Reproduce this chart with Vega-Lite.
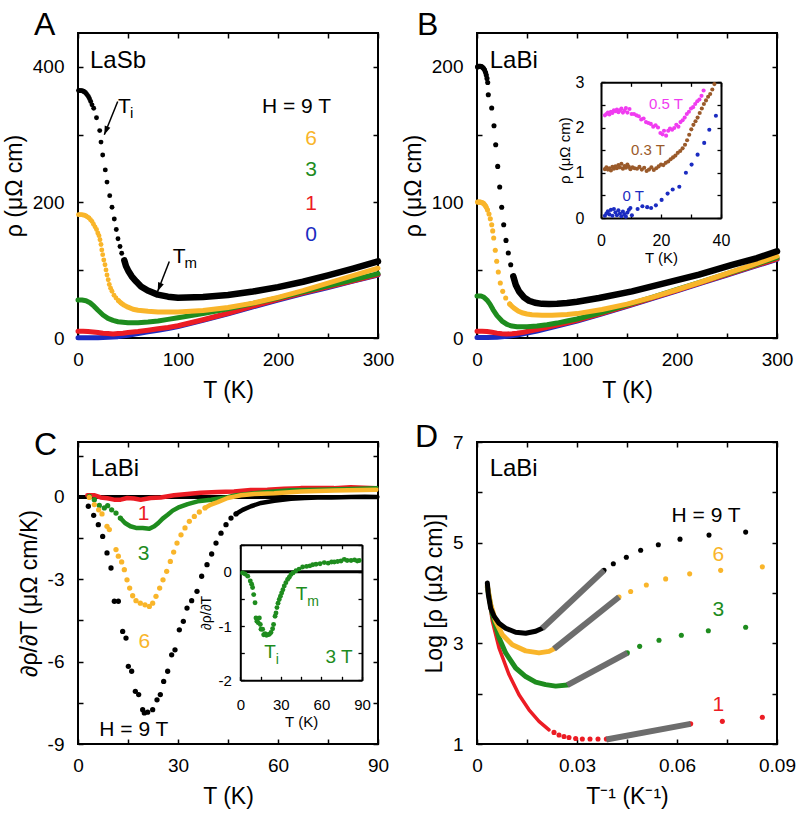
{
"$schema":"https://vega.github.io/schema/vega-lite/v6.json",
"padding":{"left":2,"top":8,"right":0,"bottom":0},
"background":"white",
"config":{
 "view":{"stroke":"black","strokeWidth":2},
 "font":"Liberation Sans",
 "text":{"font":"Liberation Sans"},
 "axis":{"domain":false,"grid":false,"tickSize":-5,"tickWidth":1.5,"tickColor":"black","labelFont":"Liberation Sans","labelFontSize":19,"labelColor":"black","labelPadding":17,"labelFlush":false,"labelOverlap":false,"titleFont":"Liberation Sans","titleFontSize":23,"titleFontWeight":"normal","titleColor":"black","titlePadding":10},
 "axisLeft":{"labelPadding":19,"titlePadding":6},
 "title":{"fontSize":32,"fontWeight":"normal","font":"Liberation Sans","anchor":"start","frame":"group","offset":-10,"baseline":"alphabetic","color":"black"}
},
"datasets":{
"A_lines":[
{"H":"0","T":0,"rho":0.5},{"H":"0","T":20,"rho":0.5},{"H":"0","T":30,"rho":1},{"H":"0","T":40,"rho":2},{"H":"0","T":50,"rho":4},{"H":"0","T":60,"rho":6.5},{"H":"0","T":70,"rho":9},{"H":"0","T":80,"rho":11.5},{"H":"0","T":90,"rho":14},{"H":"0","T":100,"rho":17},{"H":"0","T":125,"rho":26},{"H":"0","T":150,"rho":35.5},{"H":"0","T":175,"rho":46},{"H":"0","T":200,"rho":56},{"H":"0","T":225,"rho":65.5},{"H":"0","T":250,"rho":74.5},{"H":"0","T":275,"rho":84},{"H":"0","T":300,"rho":93},
{"H":"1","T":0,"rho":10},{"H":"1","T":5,"rho":10},{"H":"1","T":10,"rho":9.5},{"H":"1","T":15,"rho":9},{"H":"1","T":20,"rho":8},{"H":"1","T":25,"rho":7},{"H":"1","T":30,"rho":6.5},{"H":"1","T":35,"rho":6},{"H":"1","T":40,"rho":6.5},{"H":"1","T":45,"rho":7},{"H":"1","T":50,"rho":8},{"H":"1","T":60,"rho":9.5},{"H":"1","T":70,"rho":11.5},{"H":"1","T":80,"rho":13.5},{"H":"1","T":90,"rho":15.5},{"H":"1","T":100,"rho":18},{"H":"1","T":125,"rho":27},{"H":"1","T":150,"rho":36.5},{"H":"1","T":175,"rho":47},{"H":"1","T":200,"rho":57},{"H":"1","T":225,"rho":66.5},{"H":"1","T":250,"rho":75.5},{"H":"1","T":275,"rho":84.5},{"H":"1","T":300,"rho":93.5},
{"H":"3","T":0,"rho":56},{"H":"3","T":4,"rho":56},{"H":"3","T":8,"rho":55},{"H":"3","T":12,"rho":52},{"H":"3","T":16,"rho":47},{"H":"3","T":20,"rho":41},{"H":"3","T":25,"rho":34},{"H":"3","T":30,"rho":29},{"H":"3","T":35,"rho":26},{"H":"3","T":40,"rho":24},{"H":"3","T":50,"rho":22.5},{"H":"3","T":60,"rho":22.5},{"H":"3","T":70,"rho":23.5},{"H":"3","T":80,"rho":25},{"H":"3","T":90,"rho":27.5},{"H":"3","T":100,"rho":30},{"H":"3","T":125,"rho":36},{"H":"3","T":150,"rho":43},{"H":"3","T":175,"rho":51},{"H":"3","T":200,"rho":59},{"H":"3","T":225,"rho":68},{"H":"3","T":250,"rho":77},{"H":"3","T":275,"rho":86},{"H":"3","T":300,"rho":95},
{"H":"6","T":40.5,"rho":55},{"H":"6","T":43,"rho":51.6},{"H":"6","T":46,"rho":48.5},{"H":"6","T":50,"rho":45.5},{"H":"6","T":55,"rho":42.5},{"H":"6","T":60,"rho":41},{"H":"6","T":70,"rho":39.5},{"H":"6","T":80,"rho":38.5},{"H":"6","T":90,"rho":38.3},{"H":"6","T":100,"rho":38.5},{"H":"6","T":125,"rho":40.5},{"H":"6","T":150,"rho":45},{"H":"6","T":175,"rho":51.5},{"H":"6","T":200,"rho":60},{"H":"6","T":225,"rho":70},{"H":"6","T":250,"rho":81},{"H":"6","T":275,"rho":92},{"H":"6","T":300,"rho":103},
{"H":"9","T":46.3,"rho":114.6},{"H":"9","T":48,"rho":106},{"H":"9","T":50.7,"rho":98},{"H":"9","T":53.7,"rho":91},{"H":"9","T":58,"rho":83.6},{"H":"9","T":63,"rho":76},{"H":"9","T":69.7,"rho":70},{"H":"9","T":79.7,"rho":64},{"H":"9","T":90,"rho":61},{"H":"9","T":100,"rho":59.5},{"H":"9","T":125,"rho":60.5},{"H":"9","T":150,"rho":63.5},{"H":"9","T":175,"rho":68.5},{"H":"9","T":200,"rho":75},{"H":"9","T":225,"rho":83},{"H":"9","T":250,"rho":92.5},{"H":"9","T":275,"rho":102.5},{"H":"9","T":300,"rho":113}
],
"A_pts":[
{"H":"6","T":0.5,"rho":182},{"H":"6","T":2,"rho":182},{"H":"6","T":3.5,"rho":182},{"H":"6","T":5,"rho":181.5},{"H":"6","T":6.5,"rho":181},{"H":"6","T":8,"rho":180},{"H":"6","T":9.5,"rho":178.5},{"H":"6","T":11,"rho":177},{"H":"6","T":12.5,"rho":174.5},{"H":"6","T":14,"rho":172},{"H":"6","T":15.5,"rho":168},{"H":"6","T":17,"rho":164},{"H":"6","T":18.5,"rho":160},{"H":"6","T":19.8,"rho":155},{"H":"6","T":21,"rho":151},{"H":"6","T":22,"rho":145},{"H":"6","T":23,"rho":138},{"H":"6","T":23.8,"rho":130},{"H":"6","T":24.7,"rho":123},{"H":"6","T":25.8,"rho":115},{"H":"6","T":27,"rho":108},{"H":"6","T":28,"rho":100.5},{"H":"6","T":29,"rho":93},{"H":"6","T":30.2,"rho":86},{"H":"6","T":31.3,"rho":79},{"H":"6","T":32.6,"rho":73.5},{"H":"6","T":34,"rho":69},{"H":"6","T":36,"rho":63},{"H":"6","T":38,"rho":59},{"H":"6","T":40.5,"rho":55},{"H":"6","T":43,"rho":51.6},
{"H":"9","T":0.5,"rho":365},{"H":"9","T":1.5,"rho":365},{"H":"9","T":2.5,"rho":365},{"H":"9","T":3.5,"rho":365},{"H":"9","T":4.5,"rho":364.5},{"H":"9","T":5.5,"rho":364},{"H":"9","T":6.5,"rho":363},{"H":"9","T":7.5,"rho":362},{"H":"9","T":8.5,"rho":360},{"H":"9","T":9.5,"rho":358},{"H":"9","T":10.5,"rho":356},{"H":"9","T":11.5,"rho":353},{"H":"9","T":12.7,"rho":349},{"H":"9","T":14,"rho":344},{"H":"9","T":15.7,"rho":339},{"H":"9","T":18.5,"rho":325},{"H":"9","T":21.7,"rho":306},{"H":"9","T":23,"rho":289},{"H":"9","T":24.7,"rho":270},{"H":"9","T":27.3,"rho":248},{"H":"9","T":29,"rho":230},{"H":"9","T":31.7,"rho":210},{"H":"9","T":34,"rho":193},{"H":"9","T":36.3,"rho":175.5},{"H":"9","T":38.3,"rho":160},{"H":"9","T":40,"rho":146.5},{"H":"9","T":42,"rho":135},{"H":"9","T":43.7,"rho":125},{"H":"9","T":46.3,"rho":114.6}
],
"A_leg":[{"label":"6","H":"6","T":233,"rho":285},{"label":"3","H":"3","T":233,"rho":239},{"label":"1","H":"1","T":233,"rho":189},{"label":"0","H":"0","T":233,"rho":143}],
"A_arrows":[{"T":39.7,"rho":349,"T2":26.3,"rho2":300},{"T":91.3,"rho":113,"T2":79.7,"rho2":69}],
"A_heads":[{"T":26.3,"rho":300},{"T":79.7,"rho":69}],
"B_lines":[
{"H":"0","T":0,"rho":0.3},{"H":"0","T":10,"rho":0.3},{"H":"0","T":20,"rho":0.6},{"H":"0","T":30,"rho":1.2},{"H":"0","T":40,"rho":2.2},{"H":"0","T":50,"rho":3.6},{"H":"0","T":60,"rho":5.2},{"H":"0","T":70,"rho":7},{"H":"0","T":80,"rho":8.8},{"H":"0","T":90,"rho":10.6},{"H":"0","T":100,"rho":12.5},{"H":"0","T":125,"rho":17.8},{"H":"0","T":150,"rho":23.3},{"H":"0","T":175,"rho":29},{"H":"0","T":200,"rho":34.8},{"H":"0","T":225,"rho":40.6},{"H":"0","T":250,"rho":46.4},{"H":"0","T":275,"rho":52.2},{"H":"0","T":300,"rho":58},
{"H":"1","T":0,"rho":5},{"H":"1","T":5,"rho":5},{"H":"1","T":10,"rho":4.8},{"H":"1","T":15,"rho":4.2},{"H":"1","T":20,"rho":3.6},{"H":"1","T":25,"rho":3.2},{"H":"1","T":30,"rho":3},{"H":"1","T":35,"rho":3.1},{"H":"1","T":40,"rho":3.5},{"H":"1","T":45,"rho":4},{"H":"1","T":50,"rho":4.8},{"H":"1","T":60,"rho":6.2},{"H":"1","T":70,"rho":7.8},{"H":"1","T":80,"rho":9.5},{"H":"1","T":90,"rho":11.2},{"H":"1","T":100,"rho":13},{"H":"1","T":125,"rho":18.2},{"H":"1","T":150,"rho":23.7},{"H":"1","T":175,"rho":29.4},{"H":"1","T":200,"rho":35.2},{"H":"1","T":225,"rho":41},{"H":"1","T":250,"rho":46.8},{"H":"1","T":275,"rho":52.6},{"H":"1","T":300,"rho":58.4},
{"H":"3","T":0,"rho":31},{"H":"3","T":4,"rho":31},{"H":"3","T":7,"rho":30},{"H":"3","T":10,"rho":28},{"H":"3","T":13,"rho":25},{"H":"3","T":16,"rho":21},{"H":"3","T":20,"rho":16.5},{"H":"3","T":25,"rho":12.5},{"H":"3","T":30,"rho":10},{"H":"3","T":35,"rho":8.8},{"H":"3","T":40,"rho":8.3},{"H":"3","T":50,"rho":8.3},{"H":"3","T":60,"rho":8.8},{"H":"3","T":70,"rho":9.8},{"H":"3","T":80,"rho":11},{"H":"3","T":90,"rho":12.5},{"H":"3","T":100,"rho":14},{"H":"3","T":125,"rho":19},{"H":"3","T":150,"rho":24.5},{"H":"3","T":175,"rho":30},{"H":"3","T":200,"rho":35.8},{"H":"3","T":225,"rho":41.6},{"H":"3","T":250,"rho":47.4},{"H":"3","T":275,"rho":53.3},{"H":"3","T":300,"rho":59.3},
{"H":"6","T":32.7,"rho":25.1},{"H":"6","T":35,"rho":23.3},{"H":"6","T":37,"rho":22},{"H":"6","T":41,"rho":20},{"H":"6","T":45,"rho":18.6},{"H":"6","T":50,"rho":17.7},{"H":"6","T":55,"rho":17.2},{"H":"6","T":65,"rho":16.8},{"H":"6","T":75,"rho":16.8},{"H":"6","T":90,"rho":17.3},{"H":"6","T":100,"rho":18},{"H":"6","T":125,"rho":21},{"H":"6","T":150,"rho":25},{"H":"6","T":175,"rho":30},{"H":"6","T":200,"rho":35.6},{"H":"6","T":225,"rho":41.5},{"H":"6","T":250,"rho":47.6},{"H":"6","T":275,"rho":53.8},{"H":"6","T":300,"rho":60.3},
{"H":"9","T":36.3,"rho":45.5},{"H":"9","T":38.7,"rho":39.3},{"H":"9","T":42,"rho":34.4},{"H":"9","T":47,"rho":30},{"H":"9","T":52,"rho":27.5},{"H":"9","T":58,"rho":26},{"H":"9","T":65,"rho":25.2},{"H":"9","T":72,"rho":25},{"H":"9","T":80,"rho":25.2},{"H":"9","T":90,"rho":25.8},{"H":"9","T":100,"rho":26.8},{"H":"9","T":122,"rho":29.5},{"H":"9","T":155,"rho":34.4},{"H":"9","T":189,"rho":40.6},{"H":"9","T":222,"rho":46.7},{"H":"9","T":255,"rho":54},{"H":"9","T":280,"rho":59},{"H":"9","T":300,"rho":64}
],
"B_pts":[
{"H":"6","T":0.5,"rho":100.3},{"H":"6","T":1.5,"rho":100.3},{"H":"6","T":2.5,"rho":100.3},{"H":"6","T":3.5,"rho":100.2},{"H":"6","T":4.5,"rho":100},{"H":"6","T":5.5,"rho":99.8},{"H":"6","T":6.5,"rho":99.3},{"H":"6","T":7.5,"rho":98.5},{"H":"6","T":8.5,"rho":97.5},{"H":"6","T":9.3,"rho":96.4},{"H":"6","T":10.5,"rho":94.5},{"H":"6","T":12,"rho":91.5},{"H":"6","T":13.3,"rho":88},{"H":"6","T":14.7,"rho":83.6},{"H":"6","T":15.7,"rho":79},{"H":"6","T":16.7,"rho":73.8},{"H":"6","T":18.3,"rho":64.7},{"H":"6","T":19.7,"rho":56.6},{"H":"6","T":21.3,"rho":48.7},{"H":"6","T":23.3,"rho":40.6},{"H":"6","T":25.7,"rho":34.4},{"H":"6","T":28.7,"rho":29.5},{"H":"6","T":32.7,"rho":25.1},
{"H":"9","T":0.5,"rho":200},{"H":"9","T":1.5,"rho":200.5},{"H":"9","T":2.5,"rho":200.5},{"H":"9","T":3.5,"rho":200.5},{"H":"9","T":4.5,"rho":200.2},{"H":"9","T":5.5,"rho":199.7},{"H":"9","T":6.5,"rho":199},{"H":"9","T":7.5,"rho":197.8},{"H":"9","T":8.5,"rho":196},{"H":"9","T":9.3,"rho":194},{"H":"9","T":10,"rho":191.5},{"H":"9","T":10.7,"rho":188.5},{"H":"9","T":11.3,"rho":179.5},{"H":"9","T":14.7,"rho":169.7},{"H":"9","T":17,"rho":156.6},{"H":"9","T":18.7,"rho":142.6},{"H":"9","T":20.7,"rho":126.6},{"H":"9","T":22.7,"rho":111.4},{"H":"9","T":24.7,"rho":96.4},{"H":"9","T":26.7,"rho":83.6},{"H":"9","T":29,"rho":72},{"H":"9","T":31.3,"rho":62.7},{"H":"9","T":33.7,"rho":54},{"H":"9","T":36.3,"rho":45.5}
],
"Bi_pts":[
{"H":"0.5","T":1.3,"rho":2.27},{"H":"0.5","T":1.8,"rho":2.3},{"H":"0.5","T":2.3,"rho":2.33},{"H":"0.5","T":2.8,"rho":2.29},{"H":"0.5","T":3.3,"rho":2.35},{"H":"0.5","T":3.8,"rho":2.32},{"H":"0.5","T":4.3,"rho":2.38},{"H":"0.5","T":4.8,"rho":2.36},{"H":"0.5","T":5.3,"rho":2.4},{"H":"0.5","T":5.8,"rho":2.34},{"H":"0.5","T":6.3,"rho":2.38},{"H":"0.5","T":6.8,"rho":2.42},{"H":"0.5","T":7.3,"rho":2.33},{"H":"0.5","T":7.8,"rho":2.37},{"H":"0.5","T":8.3,"rho":2.43},{"H":"0.5","T":8.8,"rho":2.33},{"H":"0.5","T":9.5,"rho":2.41},{"H":"0.5","T":10.2,"rho":2.3},{"H":"0.5","T":11,"rho":2.3},{"H":"0.5","T":11.8,"rho":2.27},{"H":"0.5","T":12.6,"rho":2.25},{"H":"0.5","T":13.4,"rho":2.18},{"H":"0.5","T":14.2,"rho":2.2},{"H":"0.5","T":15,"rho":2.12},{"H":"0.5","T":15.8,"rho":2.1},{"H":"0.5","T":16.6,"rho":2.08},{"H":"0.5","T":17.4,"rho":2.02},{"H":"0.5","T":18.2,"rho":2.05},{"H":"0.5","T":19,"rho":2},{"H":"0.5","T":19.8,"rho":1.88},{"H":"0.5","T":20.5,"rho":1.85},{"H":"0.5","T":21,"rho":1.93},{"H":"0.5","T":21.7,"rho":1.82},{"H":"0.5","T":22.4,"rho":1.93},{"H":"0.5","T":23,"rho":1.98},{"H":"0.5","T":23.7,"rho":1.95},{"H":"0.5","T":24.4,"rho":1.99},{"H":"0.5","T":25.1,"rho":2.06},{"H":"0.5","T":25.8,"rho":2.02},{"H":"0.5","T":26.5,"rho":2.12},{"H":"0.5","T":27.2,"rho":2.16},{"H":"0.5","T":27.9,"rho":2.22},{"H":"0.5","T":28.6,"rho":2.3},{"H":"0.5","T":29.3,"rho":2.35},{"H":"0.5","T":30,"rho":2.42},{"H":"0.5","T":30.7,"rho":2.45},{"H":"0.5","T":31.4,"rho":2.52},{"H":"0.5","T":32.1,"rho":2.58},{"H":"0.5","T":32.8,"rho":2.62},{"H":"0.5","T":33.5,"rho":2.7},{"H":"0.5","T":34.2,"rho":2.82},
{"H":"0.3","T":1.3,"rho":1.08},{"H":"0.3","T":1.8,"rho":1.12},{"H":"0.3","T":2.3,"rho":1.07},{"H":"0.3","T":2.8,"rho":1.1},{"H":"0.3","T":3.3,"rho":1.05},{"H":"0.3","T":3.8,"rho":1.13},{"H":"0.3","T":4.3,"rho":1.09},{"H":"0.3","T":4.8,"rho":1.14},{"H":"0.3","T":5.3,"rho":1.1},{"H":"0.3","T":5.8,"rho":1.17},{"H":"0.3","T":6.3,"rho":1.12},{"H":"0.3","T":6.8,"rho":1.2},{"H":"0.3","T":7.3,"rho":1.09},{"H":"0.3","T":7.8,"rho":1.15},{"H":"0.3","T":8.3,"rho":1.11},{"H":"0.3","T":8.8,"rho":1.18},{"H":"0.3","T":9.3,"rho":1.13},{"H":"0.3","T":9.8,"rho":1.08},{"H":"0.3","T":10.5,"rho":1.12},{"H":"0.3","T":11.2,"rho":1.1},{"H":"0.3","T":12,"rho":1.09},{"H":"0.3","T":12.8,"rho":1.13},{"H":"0.3","T":13.6,"rho":1.07},{"H":"0.3","T":14.4,"rho":1.11},{"H":"0.3","T":15.2,"rho":1.04},{"H":"0.3","T":16,"rho":1.07},{"H":"0.3","T":16.8,"rho":1.12},{"H":"0.3","T":17.6,"rho":1.06},{"H":"0.3","T":18.4,"rho":1.1},{"H":"0.3","T":19.2,"rho":1.14},{"H":"0.3","T":20,"rho":1.18},{"H":"0.3","T":20.8,"rho":1.17},{"H":"0.3","T":21.6,"rho":1.22},{"H":"0.3","T":22.4,"rho":1.25},{"H":"0.3","T":23.2,"rho":1.3},{"H":"0.3","T":24,"rho":1.34},{"H":"0.3","T":24.8,"rho":1.38},{"H":"0.3","T":25.6,"rho":1.44},{"H":"0.3","T":26.4,"rho":1.48},{"H":"0.3","T":27.2,"rho":1.54},{"H":"0.3","T":28,"rho":1.62},{"H":"0.3","T":28.7,"rho":1.72},{"H":"0.3","T":29.4,"rho":1.84},{"H":"0.3","T":30.1,"rho":1.96},{"H":"0.3","T":30.8,"rho":2.06},{"H":"0.3","T":31.5,"rho":2.14},{"H":"0.3","T":32.2,"rho":2.22},{"H":"0.3","T":32.9,"rho":2.32},{"H":"0.3","T":33.6,"rho":2.42},{"H":"0.3","T":34.3,"rho":2.52},{"H":"0.3","T":35,"rho":2.6},{"H":"0.3","T":35.7,"rho":2.68},{"H":"0.3","T":36.4,"rho":2.74},{"H":"0.3","T":37.1,"rho":2.84},{"H":"0.3","T":37.8,"rho":2.96},
{"H":"0","T":1.3,"rho":0.05},{"H":"0","T":1.8,"rho":0.1},{"H":"0","T":2.3,"rho":0.15},{"H":"0","T":2.8,"rho":0.08},{"H":"0","T":3.3,"rho":0.18},{"H":"0","T":3.8,"rho":0.05},{"H":"0","T":4.3,"rho":0.2},{"H":"0","T":4.8,"rho":0.12},{"H":"0","T":5.3,"rho":0.06},{"H":"0","T":5.8,"rho":0.17},{"H":"0","T":6.3,"rho":0.1},{"H":"0","T":6.8,"rho":0.04},{"H":"0","T":7.3,"rho":0.14},{"H":"0","T":7.8,"rho":0.08},{"H":"0","T":8.3,"rho":0.03},{"H":"0","T":8.8,"rho":0.12},{"H":"0","T":9.3,"rho":0.18},{"H":"0","T":9.8,"rho":0.22},{"H":"0","T":10.3,"rho":0.06},{"H":"0","T":12.2,"rho":0.2},{"H":"0","T":13.8,"rho":0.26},{"H":"0","T":15.4,"rho":0.24},{"H":"0","T":16.7,"rho":0.22},{"H":"0","T":18.3,"rho":0.28},{"H":"0","T":20.2,"rho":0.4},{"H":"0","T":22.2,"rho":0.54},{"H":"0","T":23.9,"rho":0.63},{"H":"0","T":26.1,"rho":0.69},{"H":"0","T":28.3,"rho":1},{"H":"0","T":30.2,"rho":1.18},{"H":"0","T":32.2,"rho":1.4},{"H":"0","T":34.4,"rho":1.66},{"H":"0","T":36.1,"rho":1.95},{"H":"0","T":38.3,"rho":2.26}
],
"Bi_text":[{"label":"0.5 T","H":"0.5","T":16,"rho":2.4},{"label":"0.3 T","H":"0.3","T":10,"rho":1.4},{"label":"0 T","H":"0","T":7.2,"rho":0.37}],
"C_lines":[
{"H":"1","T":2.8,"d":0.06},{"H":"1","T":4.8,"d":0.06},{"H":"1","T":6.8,"d":-0.02},{"H":"1","T":8.8,"d":-0.05},{"H":"1","T":10.8,"d":-0.1},{"H":"1","T":12.8,"d":-0.1},{"H":"1","T":14.8,"d":-0.04},{"H":"1","T":16.8,"d":-0.06},{"H":"1","T":18.8,"d":-0.1},{"H":"1","T":21.8,"d":-0.04},{"H":"1","T":24.8,"d":-0.02},{"H":"1","T":28.8,"d":0.06},{"H":"1","T":32.8,"d":0.11},{"H":"1","T":36.8,"d":0.15},{"H":"1","T":41.8,"d":0.18},{"H":"1","T":46.8,"d":0.2},{"H":"1","T":51.8,"d":0.25},{"H":"1","T":56.8,"d":0.26},{"H":"1","T":61.8,"d":0.3},{"H":"1","T":66.8,"d":0.32},{"H":"1","T":71.8,"d":0.32},{"H":"1","T":76.8,"d":0.32},{"H":"1","T":81.8,"d":0.35},{"H":"1","T":89.5,"d":0.32},
{"H":"3","T":12.7,"d":-0.77},{"H":"3","T":14.1,"d":-0.95},{"H":"3","T":15.7,"d":-1.07},{"H":"3","T":17.4,"d":-1.13},{"H":"3","T":19.4,"d":-1.13},{"H":"3","T":21.4,"d":-1.16},{"H":"3","T":22.9,"d":-1.07},{"H":"3","T":24.1,"d":-0.95},{"H":"3","T":25.4,"d":-0.79},{"H":"3","T":26.9,"d":-0.65},{"H":"3","T":28.4,"d":-0.5},{"H":"3","T":30.4,"d":-0.37},{"H":"3","T":32.9,"d":-0.26},{"H":"3","T":35.9,"d":-0.16},{"H":"3","T":39.9,"d":-0.1},{"H":"3","T":44.9,"d":-0.01},{"H":"3","T":47,"d":0.05},{"H":"3","T":50.9,"d":0.11},{"H":"3","T":56.9,"d":0.18},{"H":"3","T":63.9,"d":0.24},{"H":"3","T":71.9,"d":0.26},{"H":"3","T":81.9,"d":0.29},{"H":"3","T":89.5,"d":0.32},
{"H":"6","T":38.1,"d":-0.4},{"H":"6","T":39.9,"d":-0.28},{"H":"6","T":41.9,"d":-0.19},{"H":"6","T":44.9,"d":-0.04},{"H":"6","T":46.9,"d":0.01},{"H":"6","T":48.9,"d":0.06},{"H":"6","T":52.9,"d":0.11},{"H":"6","T":58.9,"d":0.13},{"H":"6","T":66.9,"d":0.2},{"H":"6","T":76.9,"d":0.23},{"H":"6","T":89.5,"d":0.26},
{"H":"9","T":47.4,"d":-0.62},{"H":"9","T":49.4,"d":-0.47},{"H":"9","T":51.9,"d":-0.34},{"H":"9","T":54.9,"d":-0.22},{"H":"9","T":58.9,"d":-0.14},{"H":"9","T":63.9,"d":-0.07},{"H":"9","T":68,"d":-0.04},{"H":"9","T":71.9,"d":-0.02},{"H":"9","T":76,"d":-0.02},{"H":"9","T":81.9,"d":0},{"H":"9","T":86,"d":0.01},{"H":"9","T":89.8,"d":0}
],
"C_pts":[
{"H":"3","T":3.4,"d":0.02},{"H":"3","T":4.9,"d":-0.1},{"H":"3","T":6.4,"d":-0.31},{"H":"3","T":7.9,"d":-0.4},{"H":"3","T":8.9,"d":-0.32},{"H":"3","T":10.1,"d":-0.47},{"H":"3","T":11.4,"d":-0.59},{"H":"3","T":12.7,"d":-0.77},
{"H":"6","T":3.4,"d":-0.02},{"H":"6","T":4.9,"d":-0.28},{"H":"6","T":6.2,"d":-0.47},{"H":"6","T":7.2,"d":-0.62},{"H":"6","T":8.7,"d":-1.07},{"H":"6","T":9.4,"d":-1.19},{"H":"6","T":11.4,"d":-1.92},{"H":"6","T":12.1,"d":-2.16},{"H":"6","T":13.1,"d":-2.37},{"H":"6","T":13.9,"d":-2.65},{"H":"6","T":14.7,"d":-3.02},{"H":"6","T":15.5,"d":-3.32},{"H":"6","T":16.4,"d":-3.6},{"H":"6","T":17.4,"d":-3.78},{"H":"6","T":18.7,"d":-3.87},{"H":"6","T":20.1,"d":-3.93},{"H":"6","T":21.4,"d":-3.99},{"H":"6","T":22.4,"d":-3.87},{"H":"6","T":23.4,"d":-3.62},{"H":"6","T":24.5,"d":-3.32},{"H":"6","T":25.5,"d":-3.02},{"H":"6","T":26.6,"d":-2.71},{"H":"6","T":27.7,"d":-2.35},{"H":"6","T":28.7,"d":-2.01},{"H":"6","T":29.7,"d":-1.68},{"H":"6","T":30.9,"d":-1.38},{"H":"6","T":32.1,"d":-1.13},{"H":"6","T":33.4,"d":-0.89},{"H":"6","T":34.9,"d":-0.71},{"H":"6","T":36.4,"d":-0.55},{"H":"6","T":38.1,"d":-0.4},
{"H":"9","T":3.1,"d":-0.34},{"H":"9","T":4.7,"d":-0.67},{"H":"9","T":6.1,"d":-1.01},{"H":"9","T":7.4,"d":-1.44},{"H":"9","T":8.7,"d":-2.04},{"H":"9","T":9.9,"d":-2.59},{"H":"9","T":10.9,"d":-3.8},{"H":"9","T":12.1,"d":-3.8},{"H":"9","T":13.4,"d":-4.9},{"H":"9","T":14.4,"d":-5.14},{"H":"9","T":15.1,"d":-6.17},{"H":"9","T":16.1,"d":-6.35},{"H":"9","T":17.2,"d":-7.08},{"H":"9","T":18.2,"d":-7.2},{"H":"9","T":19.4,"d":-7.75},{"H":"9","T":19.9,"d":-7.87},{"H":"9","T":20.9,"d":-7.84},{"H":"9","T":22.4,"d":-7.75},{"H":"9","T":23.7,"d":-7.39},{"H":"9","T":24.7,"d":-7.2},{"H":"9","T":25.7,"d":-6.72},{"H":"9","T":26.9,"d":-6.35},{"H":"9","T":28.1,"d":-5.75},{"H":"9","T":29.1,"d":-5.57},{"H":"9","T":30.4,"d":-4.84},{"H":"9","T":31.6,"d":-4.53},{"H":"9","T":32.7,"d":-4.05},{"H":"9","T":34.1,"d":-3.78},{"H":"9","T":35.7,"d":-3.44},{"H":"9","T":37.1,"d":-2.89},{"H":"9","T":38.7,"d":-2.47},{"H":"9","T":40.1,"d":-2.08},{"H":"9","T":41.4,"d":-1.68},{"H":"9","T":42.9,"d":-1.32},{"H":"9","T":44.4,"d":-1.01},{"H":"9","T":45.9,"d":-0.77},{"H":"9","T":47.4,"d":-0.62}
],
"C_leg":[{"label":"1","H":"1","T":19.65,"d":-0.83},{"label":"3","H":"3","T":19.65,"d":-2.29},{"label":"6","H":"6","T":19.9,"d":-5.5}],
"Ci_pts":[
{"T":1.7,"d":-0.02},{"T":3.5,"d":-0.04},{"T":5.5,"d":-0.08},{"T":7.4,"d":-0.17},{"T":8.4,"d":-0.23},{"T":9.1,"d":-0.29},{"T":9.9,"d":-0.42},{"T":10.9,"d":-0.57},{"T":11.6,"d":-0.85},{"T":12.3,"d":-0.91},{"T":13.3,"d":-0.94},{"T":14.1,"d":-0.85},{"T":14.8,"d":-0.97},{"T":15.3,"d":-1.06},{"T":16.5,"d":-1.06},{"T":17.3,"d":-1.16},{"T":18.3,"d":-1.14},{"T":19.3,"d":-1.17},{"T":20.3,"d":-1.16},{"T":21.5,"d":-1.15},{"T":22.7,"d":-1.12},{"T":23.9,"d":-1.05},{"T":24.6,"d":-0.97},{"T":25.7,"d":-0.82},{"T":26.4,"d":-0.76},{"T":27.1,"d":-0.66},{"T":27.9,"d":-0.58},{"T":28.8,"d":-0.51},{"T":29.7,"d":-0.45},{"T":30.6,"d":-0.39},{"T":31.5,"d":-0.33},{"T":32.5,"d":-0.26},{"T":33.7,"d":-0.2},{"T":35,"d":-0.14},{"T":36.2,"d":-0.1},{"T":37.5,"d":-0.05},{"T":39,"d":-0.02},{"T":41.2,"d":0.02},{"T":43.5,"d":0.05},{"T":46.1,"d":0.09},{"T":49,"d":0.1},{"T":51.5,"d":0.11},{"T":53.6,"d":0.13},{"T":56,"d":0.14},{"T":59,"d":0.15},{"T":62.1,"d":0.17},{"T":65,"d":0.16},{"T":67.5,"d":0.18},{"T":69.5,"d":0.18},{"T":72,"d":0.19},{"T":74.5,"d":0.2},{"T":76.9,"d":0.23},{"T":79,"d":0.21},{"T":81.9,"d":0.21},{"T":84.5,"d":0.22},{"T":86.5,"d":0.2},{"T":88,"d":0.21}
],
"D_lines":[
{"H":"3","x":0.0031,"v":4.12},{"H":"3","x":0.0046,"v":3.57},{"H":"3","x":0.0066,"v":3.11},{"H":"3","x":0.0086,"v":2.81},{"H":"3","x":0.0116,"v":2.51},{"H":"3","x":0.0146,"v":2.34},{"H":"3","x":0.0176,"v":2.23},{"H":"3","x":0.0206,"v":2.18},{"H":"3","x":0.0236,"v":2.15},{"H":"3","x":0.0271,"v":2.17},
{"H":"6","x":0.0031,"v":4.15},{"H":"6","x":0.0041,"v":3.77},{"H":"6","x":0.0056,"v":3.44},{"H":"6","x":0.0076,"v":3.17},{"H":"6","x":0.0106,"v":2.97},{"H":"6","x":0.0146,"v":2.85},{"H":"6","x":0.0186,"v":2.81},{"H":"6","x":0.0216,"v":2.84},{"H":"6","x":0.0231,"v":2.89},
{"H":"9","x":0.0031,"v":4.2},{"H":"9","x":0.0034,"v":3.97},{"H":"9","x":0.0041,"v":3.7},{"H":"9","x":0.0051,"v":3.54},{"H":"9","x":0.0066,"v":3.4},{"H":"9","x":0.0086,"v":3.3},{"H":"9","x":0.0116,"v":3.22},{"H":"9","x":0.0146,"v":3.2},{"H":"9","x":0.0176,"v":3.24},{"H":"9","x":0.0196,"v":3.3}
],
"D_red":[
{"H":"1","x":0.0031,"v":4.1},{"H":"1","x":0.0046,"v":3.44},{"H":"1","x":0.0066,"v":2.91},{"H":"1","x":0.0096,"v":2.38},{"H":"1","x":0.0126,"v":1.98},{"H":"1","x":0.0156,"v":1.68},{"H":"1","x":0.0186,"v":1.45},{"H":"1","x":0.0216,"v":1.28}
],
"D_fit":[
{"H":"9","x":0.0196,"v":3.3},{"H":"9","x":0.0381,"v":4.45},
{"H":"6","x":0.0231,"v":2.89},{"H":"6","x":0.0426,"v":3.92},
{"H":"3","x":0.0271,"v":2.17},{"H":"3","x":0.0451,"v":2.81},
{"H":"1","x":0.0388,"v":1.09},{"H":"1","x":0.0641,"v":1.4}
],
"D_pts":[
{"H":"1","x":0.0231,"v":1.23},{"H":"1","x":0.0246,"v":1.18},{"H":"1","x":0.0261,"v":1.15},{"H":"1","x":0.0276,"v":1.13},{"H":"1","x":0.0296,"v":1.11},{"H":"1","x":0.0316,"v":1.1},{"H":"1","x":0.0339,"v":1.1},{"H":"1","x":0.0363,"v":1.1},{"H":"1","x":0.0388,"v":1.1},{"H":"1","x":0.0641,"v":1.4},{"H":"1","x":0.0736,"v":1.45},{"H":"1","x":0.0856,"v":1.53},
{"H":"3","x":0.0451,"v":2.81},{"H":"3","x":0.0488,"v":2.94},{"H":"3","x":0.0546,"v":3.06},{"H":"3","x":0.0613,"v":3.16},{"H":"3","x":0.0694,"v":3.25},{"H":"3","x":0.0806,"v":3.32},
{"H":"6","x":0.0426,"v":3.92},{"H":"6","x":0.0461,"v":4.03},{"H":"6","x":0.0508,"v":4.16},{"H":"6","x":0.0566,"v":4.28},{"H":"6","x":0.0638,"v":4.38},{"H":"6","x":0.0731,"v":4.45},{"H":"6","x":0.0856,"v":4.52},
{"H":"9","x":0.0381,"v":4.45},{"H":"9","x":0.0409,"v":4.58},{"H":"9","x":0.0448,"v":4.71},{"H":"9","x":0.0491,"v":4.85},{"H":"9","x":0.0544,"v":4.96},{"H":"9","x":0.0609,"v":5.07},{"H":"9","x":0.0696,"v":5.15},{"H":"9","x":0.0806,"v":5.21}
],
"D_leg":[{"label":"6","H":"6","x":0.0724,"v":4.63},{"label":"3","H":"3","x":0.0724,"v":3.54},{"label":"1","H":"1","x":0.0724,"v":1.65}]
},
"concat":[
{"width":300,"height":305,"title":{"text":"A","dx":-44},
"layer":[
 {"data":{"name":"A_lines"},"transform":[{"filter":"datum.H !== '9'"}],"mark":{"type":"line","strokeWidth":5,"strokeCap":"round","strokeJoin":"round"},
  "encoding":{"x":{"field":"T","type":"quantitative","scale":{"domain":[0,300],"nice":false},"axis":{"orient":"bottom","values":[0,50,100,150,200,250,300],"labelExpr":"datum.value % 100 === 0 ? '' + datum.value : ''","title":"T (K)"}},
  "y":{"field":"rho","type":"quantitative","scale":{"domain":[0,450],"nice":false},"axis":{"orient":"left","values":[0,100,200,300,400],"labelExpr":"datum.value % 200 === 0 ? '' + datum.value : ''","title":"ρ (μΩ cm)"}},
  "color":{"field":"H","type":"nominal","scale":{"domain":["9","6","3","1","0","0.5","0.3"],"range":["#000000","#F9B52A","#1E8C1E","#EC1C24","#1B2CC1","#F03CF0","#9A5A2A"]},"legend":null}}},
 {"data":{"name":"A_lines"},"transform":[{"filter":"datum.H === '9'"}],"mark":{"type":"line","strokeWidth":6.5,"strokeCap":"round","strokeJoin":"round","color":"#000000"},
  "encoding":{"x":{"field":"T","type":"quantitative","axis":{"orient":"top","values":[0,50,100,150,200,250,300],"labels":false,"title":null}},
  "y":{"field":"rho","type":"quantitative","axis":{"orient":"right","values":[0,100,200,300,400],"labels":false,"title":null}}}},
 {"data":{"name":"A_pts"},"mark":{"type":"circle","size":24,"opacity":1},
  "encoding":{"x":{"field":"T","type":"quantitative","axis":null},"y":{"field":"rho","type":"quantitative","axis":null},"color":{"field":"H","type":"nominal","scale":{"domain":["9","6","3","1","0","0.5","0.3"],"range":["#000000","#F9B52A","#1E8C1E","#EC1C24","#1B2CC1","#F03CF0","#9A5A2A"]},"legend":null}}},
 {"data":{"name":"A_arrows"},"mark":{"type":"rule","strokeWidth":1.5,"color":"black"},
  "encoding":{"x":{"field":"T","type":"quantitative","axis":null},"y":{"field":"rho","type":"quantitative","axis":null},"x2":{"field":"T2"},"y2":{"field":"rho2"}}},
 {"data":{"name":"A_heads"},"mark":{"type":"point","shape":"M0,0L-0.35,-1L0.35,-1Z","size":300,"filled":true,"opacity":1,"color":"black","angle":22},
  "encoding":{"x":{"field":"T","type":"quantitative","axis":null},"y":{"field":"rho","type":"quantitative","axis":null}}},
 {"data":{"values":[{"label":"LaSb","T":12,"rho":398}]},"mark":{"type":"text","align":"left","baseline":"alphabetic","fontSize":24,"color":"black"},
  "encoding":{"x":{"field":"T","type":"quantitative","axis":null},"y":{"field":"rho","type":"quantitative","axis":null},"text":{"field":"label"}}},
 {"data":{"values":[{"label":"H = 9 T","T":253,"rho":332}]},"mark":{"type":"text","align":"right","baseline":"alphabetic","fontSize":21,"color":"black"},
  "encoding":{"x":{"field":"T","type":"quantitative","axis":null},"y":{"field":"rho","type":"quantitative","axis":null},"text":{"field":"label"}}},
 {"data":{"name":"A_leg"},"mark":{"type":"text","align":"center","baseline":"alphabetic","fontSize":21},
  "encoding":{"x":{"field":"T","type":"quantitative","axis":null},"y":{"field":"rho","type":"quantitative","axis":null},"text":{"field":"label"},"color":{"field":"H","type":"nominal","scale":{"domain":["9","6","3","1","0","0.5","0.3"],"range":["#000000","#F9B52A","#1E8C1E","#EC1C24","#1B2CC1","#F03CF0","#9A5A2A"]},"legend":null}}},
 {"data":{"values":[{"label":"T","T":40,"rho":332},{"label":"T","T":94.7,"rho":110.6}]},"mark":{"type":"text","align":"left","baseline":"alphabetic","fontSize":21,"color":"black"},
  "encoding":{"x":{"field":"T","type":"quantitative","axis":null},"y":{"field":"rho","type":"quantitative","axis":null},"text":{"field":"label"}}},
 {"data":{"values":[{"label":"i","T":52,"rho":324.5},{"label":"m","T":106.5,"rho":103}]},"mark":{"type":"text","align":"left","baseline":"alphabetic","fontSize":15,"color":"black"},
  "encoding":{"x":{"field":"T","type":"quantitative","axis":null},"y":{"field":"rho","type":"quantitative","axis":null},"text":{"field":"label"}}}
],
"resolve":{"axis":{"x":"independent","y":"independent"}}},

{"width":300,"height":305,"title":{"text":"B","dx":-60},
"layer":[
 {"layer":[
  {"data":{"name":"B_lines"},"transform":[{"filter":"datum.H !== '9'"}],"mark":{"type":"line","strokeWidth":5,"strokeCap":"round","strokeJoin":"round"},
   "encoding":{"x":{"field":"T","type":"quantitative","scale":{"domain":[0,300],"nice":false},"axis":{"orient":"bottom","values":[0,50,100,150,200,250,300],"labelExpr":"datum.value % 100 === 0 ? '' + datum.value : ''","title":"T (K)"}},
   "y":{"field":"rho","type":"quantitative","scale":{"domain":[0,225],"nice":false},"axis":{"orient":"left","values":[0,50,100,150,200],"labelExpr":"datum.value % 100 === 0 ? '' + datum.value : ''","title":"ρ (μΩ cm)"}},
   "color":{"field":"H","type":"nominal","scale":{"domain":["9","6","3","1","0","0.5","0.3"],"range":["#000000","#F9B52A","#1E8C1E","#EC1C24","#1B2CC1","#F03CF0","#9A5A2A"]},"legend":null}}},
  {"data":{"name":"B_lines"},"transform":[{"filter":"datum.H === '9'"}],"mark":{"type":"line","strokeWidth":6.5,"strokeCap":"round","strokeJoin":"round","color":"#000000"},
   "encoding":{"x":{"field":"T","type":"quantitative","axis":{"orient":"top","values":[0,50,100,150,200,250,300],"labels":false,"title":null}},
   "y":{"field":"rho","type":"quantitative","axis":{"orient":"right","values":[0,50,100,150,200],"labels":false,"title":null}}}},
  {"data":{"name":"B_pts"},"mark":{"type":"circle","size":26,"opacity":1},
   "encoding":{"x":{"field":"T","type":"quantitative","axis":null},"y":{"field":"rho","type":"quantitative","axis":null},"color":{"field":"H","type":"nominal","scale":{"domain":["9","6","3","1","0","0.5","0.3"],"range":["#000000","#F9B52A","#1E8C1E","#EC1C24","#1B2CC1","#F03CF0","#9A5A2A"]},"legend":null}}},
  {"data":{"values":[{"label":"LaBi","T":12.7,"rho":199}]},"mark":{"type":"text","align":"left","baseline":"alphabetic","fontSize":24,"color":"black"},
   "encoding":{"x":{"field":"T","type":"quantitative","axis":null},"y":{"field":"rho","type":"quantitative","axis":null},"text":{"field":"label"}}}
 ],"resolve":{"axis":{"x":"independent","y":"independent"}}},
 {"layer":[
  {"data":{"name":"Bi_pts"},"transform":[{"filter":"datum.H === '0.5'"}],"mark":{"type":"circle","size":17,"opacity":1},
   "encoding":{"x":{"field":"T","type":"quantitative","scale":{"domain":[0,40],"range":[124,244],"nice":false},"axis":{"orient":"bottom","offset":-120,"values":[0,10,20,30,40],"labelExpr":"datum.value % 20 === 0 ? '' + datum.value : ''","title":"T (K)","domain":true,"domainWidth":2,"domainColor":"black","tickSize":-4,"tickWidth":1.3,"labelFontSize":16,"titleFontSize":15,"labelPadding":18,"titlePadding":2}},
   "y":{"field":"rho","type":"quantitative","scale":{"domain":[0,3],"range":[185,49.3],"nice":false},"axis":{"orient":"left","offset":-124,"values":[0,0.5,1,1.5,2,2.5,3],"labelExpr":"datum.value % 1 === 0 ? '' + datum.value : ''","title":"ρ (μΩ cm)","domain":true,"domainWidth":2,"domainColor":"black","tickSize":-4,"tickWidth":1.3,"labelFontSize":16,"titleFontSize":15,"labelPadding":21,"titlePadding":3}},
   "color":{"field":"H","type":"nominal","scale":{"domain":["9","6","3","1","0","0.5","0.3"],"range":["#000000","#F9B52A","#1E8C1E","#EC1C24","#1B2CC1","#F03CF0","#9A5A2A"]},"legend":null}}},
  {"data":{"name":"Bi_pts"},"transform":[{"filter":"datum.H !== '0.5'"}],"mark":{"type":"circle","size":17,"opacity":1},
   "encoding":{"x":{"field":"T","type":"quantitative","axis":{"orient":"top","offset":-49.3,"values":[0,10,20,30,40],"labels":false,"title":null,"domain":true,"domainWidth":2,"domainColor":"black","tickSize":-4,"tickWidth":1.3}},
   "y":{"field":"rho","type":"quantitative","axis":{"orient":"right","offset":-56,"values":[0,0.5,1,1.5,2,2.5,3],"labels":false,"title":null,"domain":true,"domainWidth":2,"domainColor":"black","tickSize":-4,"tickWidth":1.3}},
   "color":{"field":"H","type":"nominal","scale":{"domain":["9","6","3","1","0","0.5","0.3"],"range":["#000000","#F9B52A","#1E8C1E","#EC1C24","#1B2CC1","#F03CF0","#9A5A2A"]},"legend":null}}},
  {"data":{"name":"Bi_text"},"mark":{"type":"text","align":"left","baseline":"alphabetic","fontSize":15},
   "encoding":{"x":{"field":"T","type":"quantitative","axis":null},"y":{"field":"rho","type":"quantitative","axis":null},"text":{"field":"label"},"color":{"field":"H","type":"nominal","scale":{"domain":["9","6","3","1","0","0.5","0.3"],"range":["#000000","#F9B52A","#1E8C1E","#EC1C24","#1B2CC1","#F03CF0","#9A5A2A"]},"legend":null}}}
 ],"resolve":{"axis":{"x":"independent","y":"independent"}}}
],
"resolve":{"scale":{"x":"independent","y":"independent"},"axis":{"x":"independent","y":"independent"}}},

{"width":300,"height":302,"title":{"text":"C","dx":-44,"dy":11},
"layer":[
 {"layer":[
  {"data":{"values":[{"T":0,"T2":90,"d":0}]},"mark":{"type":"rule","strokeWidth":4,"color":"black"},
   "encoding":{"x":{"field":"T","type":"quantitative","scale":{"domain":[0,90],"nice":false},"axis":{"orient":"bottom","values":[0,15,30,45,60,75,90],"labelExpr":"datum.value % 30 === 0 ? '' + datum.value : ''","title":"T (K)"}},
   "x2":{"field":"T2"},
   "y":{"field":"d","type":"quantitative","scale":{"domain":[-9,2],"nice":false},"axis":{"orient":"left","values":[-9,-7.5,-6,-4.5,-3,-1.5,0,1.5],"labelExpr":"datum.value % 3 === 0 ? '' + datum.value : ''","title":"∂ρ/∂T (μΩ cm/K)"}}}},
  {"data":{"name":"C_lines"},"mark":{"type":"line","strokeWidth":4.5,"strokeCap":"round","strokeJoin":"round"},
   "encoding":{"x":{"field":"T","type":"quantitative","axis":{"orient":"top","values":[0,15,30,45,60,75,90],"labels":false,"title":null}},
   "y":{"field":"d","type":"quantitative","axis":{"orient":"right","values":[-9,-7.5,-6,-4.5,-3,-1.5,0,1.5],"labels":false,"title":null}},
   "color":{"field":"H","type":"nominal","scale":{"domain":["9","6","3","1","0","0.5","0.3"],"range":["#000000","#F9B52A","#1E8C1E","#EC1C24","#1B2CC1","#F03CF0","#9A5A2A"]},"legend":null}}},
  {"data":{"name":"C_pts"},"mark":{"type":"circle","size":28,"opacity":1},
   "encoding":{"x":{"field":"T","type":"quantitative","axis":null},"y":{"field":"d","type":"quantitative","axis":null},"color":{"field":"H","type":"nominal","scale":{"domain":["9","6","3","1","0","0.5","0.3"],"range":["#000000","#F9B52A","#1E8C1E","#EC1C24","#1B2CC1","#F03CF0","#9A5A2A"]},"legend":null}}},
  {"data":{"values":[{"label":"LaBi","T":3.9,"d":0.75}]},"mark":{"type":"text","align":"left","baseline":"alphabetic","fontSize":24,"color":"black"},
   "encoding":{"x":{"field":"T","type":"quantitative","axis":null},"y":{"field":"d","type":"quantitative","axis":null},"text":{"field":"label"}}},
  {"data":{"values":[{"label":"H = 9 T","T":6.4,"d":-8.72}]},"mark":{"type":"text","align":"left","baseline":"alphabetic","fontSize":21,"color":"black"},
   "encoding":{"x":{"field":"T","type":"quantitative","axis":null},"y":{"field":"d","type":"quantitative","axis":null},"text":{"field":"label"}}},
  {"data":{"name":"C_leg"},"mark":{"type":"text","align":"center","baseline":"alphabetic","fontSize":21},
   "encoding":{"x":{"field":"T","type":"quantitative","axis":null},"y":{"field":"d","type":"quantitative","axis":null},"text":{"field":"label"},"color":{"field":"H","type":"nominal","scale":{"domain":["9","6","3","1","0","0.5","0.3"],"range":["#000000","#F9B52A","#1E8C1E","#EC1C24","#1B2CC1","#F03CF0","#9A5A2A"]},"legend":null}}}
 ],"resolve":{"axis":{"x":"independent","y":"independent"}}},
 {"layer":[
  {"data":{"values":[{"T":0,"T2":90,"d":0}]},"mark":{"type":"rule","strokeWidth":3,"color":"black"},
   "encoding":{"x":{"field":"T","type":"quantitative","scale":{"domain":[0,90],"range":[162.3,284],"nice":false},"axis":{"orient":"bottom","offset":-63.7,"values":[0,15,30,45,60,75,90],"labelExpr":"datum.value % 30 === 0 ? '' + datum.value : ''","title":"T (K)","domain":true,"domainWidth":2,"domainColor":"black","tickSize":-4,"tickWidth":1.3,"labelFontSize":15,"titleFontSize":15,"labelPadding":21,"titlePadding":2}},
   "x2":{"field":"T2"},
   "y":{"field":"d","type":"quantitative","scale":{"domain":[-2,0.5],"range":[238.3,102.7],"nice":false},"axis":{"orient":"left","offset":-162.3,"values":[-2,-1.5,-1,-0.5,0,0.5],"labelExpr":"datum.value % 1 === 0 ? '' + datum.value : ''","title":"∂ρ/∂T","domain":true,"domainWidth":2,"domainColor":"black","tickSize":-4,"tickWidth":1.3,"labelFontSize":15,"titleFontSize":14,"labelPadding":13,"titlePadding":4}}}},
  {"data":{"name":"Ci_pts"},"mark":{"type":"circle","size":24,"opacity":1,"color":"#1E8C1E"},
   "encoding":{"x":{"field":"T","type":"quantitative","axis":{"orient":"top","offset":-102.7,"values":[0,15,30,45,60,75,90],"labels":false,"title":null,"domain":true,"domainWidth":2,"domainColor":"black","tickSize":-4,"tickWidth":1.3}},
   "y":{"field":"d","type":"quantitative","axis":{"orient":"right","offset":-16,"values":[-2,-1.5,-1,-0.5,0,0.5],"labels":false,"title":null,"domain":true,"domainWidth":2,"domainColor":"black","tickSize":-4,"tickWidth":1.3}}}},
  {"data":{"values":[{"label":"T","T":41,"d":-0.52},{"label":"T","T":17.8,"d":-1.59}]},"mark":{"type":"text","align":"left","baseline":"alphabetic","fontSize":19,"color":"#1E8C1E"},
   "encoding":{"x":{"field":"T","type":"quantitative","axis":null},"y":{"field":"d","type":"quantitative","axis":null},"text":{"field":"label"}}},
  {"data":{"values":[{"label":"m","T":49.5,"d":-0.63},{"label":"i","T":26.2,"d":-1.7}]},"mark":{"type":"text","align":"left","baseline":"alphabetic","fontSize":14,"color":"#1E8C1E"},
   "encoding":{"x":{"field":"T","type":"quantitative","axis":null},"y":{"field":"d","type":"quantitative","axis":null},"text":{"field":"label"}}},
  {"data":{"values":[{"label":"3 T","T":83.1,"d":-1.68}]},"mark":{"type":"text","align":"right","baseline":"alphabetic","fontSize":19,"color":"#1E8C1E"},
   "encoding":{"x":{"field":"T","type":"quantitative","axis":null},"y":{"field":"d","type":"quantitative","axis":null},"text":{"field":"label"}}}
 ],"resolve":{"axis":{"x":"independent","y":"independent"}}}
],
"resolve":{"scale":{"x":"independent","y":"independent"},"axis":{"x":"independent","y":"independent"}}},

{"width":300,"height":302,"title":{"text":"D","dx":-62,"dy":11},
"layer":[
 {"data":{"name":"D_red"},"mark":{"type":"line","strokeWidth":3.5,"strokeCap":"round","strokeJoin":"round"},
  "encoding":{"x":{"field":"x","type":"quantitative","scale":{"domain":[0,0.09],"nice":false},"axis":{"orient":"bottom","values":[0,0.015,0.03,0.045,0.06,0.075,0.09],"labelExpr":"indexof([0,0.03,0.06,0.09], datum.value) >= 0 ? '' + datum.value : ''","title":"T⁻¹ (K⁻¹)"}},
  "y":{"field":"v","type":"quantitative","scale":{"domain":[1,7],"nice":false},"axis":{"orient":"left","values":[1,2,3,4,5,6,7],"labelExpr":"datum.value % 2 === 1 ? '' + datum.value : ''","title":"Log [ρ (μΩ cm)]"}},
  "color":{"field":"H","type":"nominal","scale":{"domain":["9","6","3","1","0","0.5","0.3"],"range":["#000000","#F9B52A","#1E8C1E","#EC1C24","#1B2CC1","#F03CF0","#9A5A2A"]},"legend":null}}},
 {"data":{"name":"D_lines"},"mark":{"type":"line","strokeWidth":5,"strokeCap":"round","strokeJoin":"round"},
  "encoding":{"x":{"field":"x","type":"quantitative","axis":{"orient":"top","values":[0,0.015,0.03,0.045,0.06,0.075,0.09],"labels":false,"title":null}},
  "y":{"field":"v","type":"quantitative","axis":{"orient":"right","values":[1,2,3,4,5,6,7],"labels":false,"title":null}},
  "color":{"field":"H","type":"nominal","scale":{"domain":["9","6","3","1","0","0.5","0.3"],"range":["#000000","#F9B52A","#1E8C1E","#EC1C24","#1B2CC1","#F03CF0","#9A5A2A"]},"legend":null}}},
 {"data":{"name":"D_pts"},"mark":{"type":"circle","size":26,"opacity":1},
  "encoding":{"x":{"field":"x","type":"quantitative","axis":null},"y":{"field":"v","type":"quantitative","axis":null},"color":{"field":"H","type":"nominal","scale":{"domain":["9","6","3","1","0","0.5","0.3"],"range":["#000000","#F9B52A","#1E8C1E","#EC1C24","#1B2CC1","#F03CF0","#9A5A2A"]},"legend":null}}},
 {"data":{"name":"D_fit"},"mark":{"type":"line","strokeWidth":6,"color":"#6D6D6D","strokeCap":"butt"},
  "encoding":{"x":{"field":"x","type":"quantitative","axis":null},"y":{"field":"v","type":"quantitative","axis":null},"detail":{"field":"H"}}},
 {"data":{"values":[{"label":"LaBi","x":0.0038,"v":6.32}]},"mark":{"type":"text","align":"left","baseline":"alphabetic","fontSize":24,"color":"black"},
  "encoding":{"x":{"field":"x","type":"quantitative","axis":null},"y":{"field":"v","type":"quantitative","axis":null},"text":{"field":"label"}}},
 {"data":{"values":[{"label":"H = 9 T","x":0.0791,"v":5.42}]},"mark":{"type":"text","align":"right","baseline":"alphabetic","fontSize":21,"color":"black"},
  "encoding":{"x":{"field":"x","type":"quantitative","axis":null},"y":{"field":"v","type":"quantitative","axis":null},"text":{"field":"label"}}},
 {"data":{"name":"D_leg"},"mark":{"type":"text","align":"center","baseline":"alphabetic","fontSize":21},
  "encoding":{"x":{"field":"x","type":"quantitative","axis":null},"y":{"field":"v","type":"quantitative","axis":null},"text":{"field":"label"},"color":{"field":"H","type":"nominal","scale":{"domain":["9","6","3","1","0","0.5","0.3"],"range":["#000000","#F9B52A","#1E8C1E","#EC1C24","#1B2CC1","#F03CF0","#9A5A2A"]},"legend":null}}}
],
"resolve":{"axis":{"x":"independent","y":"independent"}}}
],
"columns":2,
"spacing":{"row":104,"column":99},
"bounds":"flush"
}
